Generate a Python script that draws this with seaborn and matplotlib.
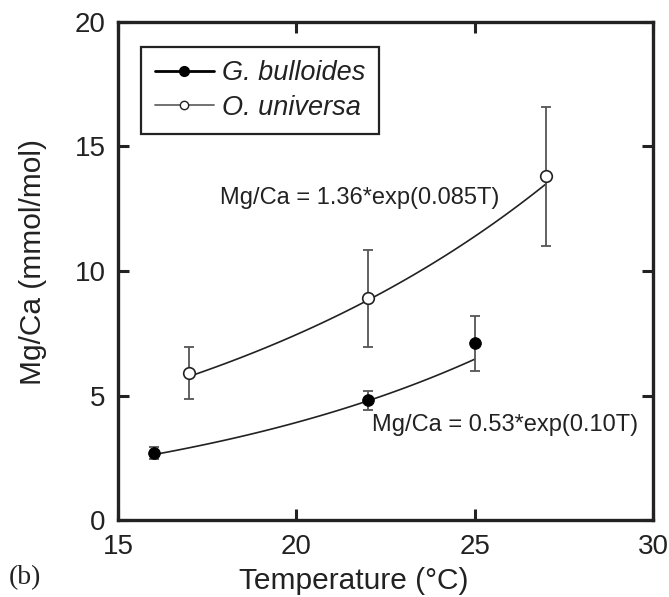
import numpy as np
import pandas as pd
import matplotlib
matplotlib.use("Agg")
import matplotlib.pyplot as plt
import seaborn as sns
from matplotlib.lines import Line2D

# ---- data ----
gb_temp = [16, 22, 25]
gb_mgca = [2.7, 4.8, 7.1]
gb_err_lo = [0.25, 0.4, 1.1]
gb_err_hi = [0.25, 0.4, 1.1]

ou_temp = [17, 22, 27]
ou_mgca = [5.9, 8.9, 13.8]
ou_err_lo = [1.05, 1.95, 2.8]
ou_err_hi = [1.05, 1.95, 2.8]

gb_fit = (0.53, 0.10)     # Mg/Ca = A*exp(B*T)
ou_fit = (1.36, 0.085)

species = ["G. bulloides", "O. universa"]
x_ticks = [15, 20, 25, 30]
y_ticks = [0, 5, 10, 15, 20]

sns.set_theme(style="ticks")
plt.rcParams['font.family'] = ['Liberation Sans', 'DejaVu Sans']

fig = plt.figure(figsize=(6.69, 5.97), dpi=100)
ax = fig.add_axes([118/669, 1-520/597, (653-118)/669, (520-22)/597])

# fitted curves
t_gb = np.linspace(min(gb_temp), max(gb_temp), 100)
t_ou = np.linspace(min(ou_temp), max(ou_temp), 100)
fit_df = pd.concat([
    pd.DataFrame({"T": t_gb, "Mg": gb_fit[0]*np.exp(gb_fit[1]*t_gb), "sp": species[0]}),
    pd.DataFrame({"T": t_ou, "Mg": ou_fit[0]*np.exp(ou_fit[1]*t_ou), "sp": species[1]}),
])
sns.lineplot(data=fit_df, x="T", y="Mg", units="sp", estimator=None,
             color="#222222", lw=1.2, ax=ax, legend=False)

# error bars
ax.errorbar(gb_temp, gb_mgca, yerr=[gb_err_lo, gb_err_hi], fmt="none",
            ecolor="#555555", elinewidth=1.3, capsize=3.6, capthick=1.3, zorder=3)
ax.errorbar(ou_temp, ou_mgca, yerr=[ou_err_lo, ou_err_hi], fmt="none",
            ecolor="#555555", elinewidth=1.3, capsize=3.6, capthick=1.3, zorder=3)

# points
sns.scatterplot(x=gb_temp, y=gb_mgca, color="black", edgecolor="black",
                s=70, zorder=4, ax=ax, legend=False)
sns.scatterplot(x=ou_temp, y=ou_mgca, color="white", edgecolor="#222222",
                linewidth=1.2, s=70, zorder=4, ax=ax, legend=False)

ax.set_xlim(15, 30)
ax.set_ylim(0, 20)
ax.set_xticks(x_ticks)
ax.set_yticks(y_ticks)
ax.tick_params(direction="in", length=8, width=2.2, labelsize=20,
               top=True, right=True, colors="#222222", labelcolor="#222222")
ax.tick_params(axis="y", pad=9)
ax.tick_params(axis="x", pad=10)
for s in ax.spines.values():
    s.set_linewidth(2.4)
    s.set_color("#222222")

ax.set_xlabel("Temperature (°C)", fontsize=21.5, color="#222222")
ax.set_ylabel("Mg/Ca (mmol/mol)", fontsize=21.5, color="#222222")
ax.xaxis.set_label_coords((354-118)/535, -(567-520)/498)
ax.yaxis.set_label_coords((47-118)/535, (520-262)/498)

ax.text(17.86, 12.93, "Mg/Ca = 1.36*exp(0.085T)", fontsize=17,
        color="#222222", va="center")
ax.text(22.12, 3.82, "Mg/Ca = 0.53*exp(0.10T)", fontsize=17,
        color="#222222", va="center")

handles = [
    Line2D([], [], color="black", lw=2, marker="o", markersize=7,
           markerfacecolor="black", markeredgecolor="black"),
    Line2D([], [], color="#666666", lw=1.3, marker="o", markersize=6,
           markerfacecolor="white", markeredgecolor="#222222"),
]
leg = ax.legend(handles, species, loc="upper left", bbox_to_anchor=(0.043, 0.95),
                borderaxespad=0, fancybox=False, framealpha=1, edgecolor="#222222",
                prop={"style": "italic", "size": 19.5}, handlelength=2.2,
                handletextpad=0.3, borderpad=0.5, labelspacing=0.3)
leg.get_frame().set_linewidth(1.6)
for t in leg.get_texts():
    t.set_color("#222222")

fig.text(9/669, 1-578/597, "(b)", fontsize=20, family="Liberation Serif",
         color="#222222", va="center")

fig.savefig("out.png", dpi=100)
